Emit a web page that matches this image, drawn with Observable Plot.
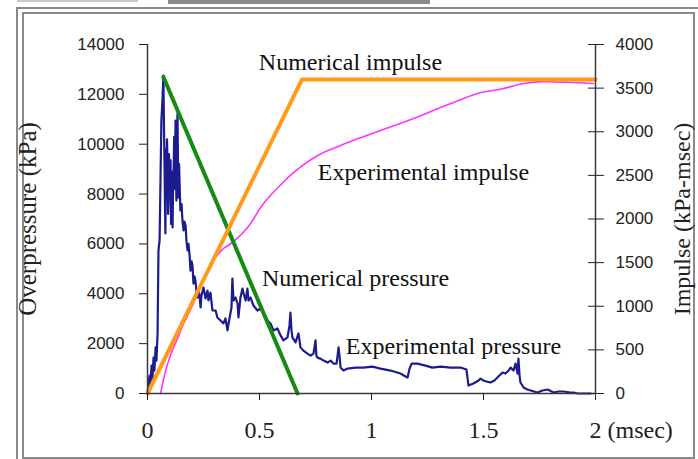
<!DOCTYPE html>
<html><head><meta charset="utf-8">
<script src="https://cdn.jsdelivr.net/npm/d3@7"></script>
<script src="https://cdn.jsdelivr.net/npm/@observablehq/plot@0.6"></script>
<style>
body{margin:0;background:#fff;}
#wrap{position:relative;width:698px;height:459px;overflow:hidden;background:#fff;}
.b{position:absolute;box-sizing:border-box;}
#chart{position:absolute;left:0;top:0;}
</style></head><body><div id="wrap">
<div class="b" style="left:17px;top:0;width:121px;height:2px;background:#c8c8c8"></div>
<div class="b" style="left:168px;top:0;width:262px;height:4px;background:#8a8a8a"></div>
<div class="b" style="left:16px;top:7px;width:700px;height:470px;border:2px solid #8a8a8a"></div>
<div class="b" style="left:22px;top:12px;width:673px;height:447px;border:2px solid #8a8a8a"></div>
<div id="chart"></div>
</div>
<script>
// time in msec
const expPressureT = [0,0.004,0.009,0.013,0.018,0.022,0.027,0.031,0.036,0.040,0.045,0.049,0.054,0.058,0.062,0.067,0.071,0.074,0.076,0.078,0.080,0.083,0.085,0.087,0.089,0.092,0.094,0.096,0.098,0.101,0.103,0.105,0.107,0.110,0.112,0.114,0.116,0.119,0.121,0.123,0.125,0.127,0.129,0.132,0.134,0.136,0.138,0.141,0.143,0.145,0.147,0.152,0.156,0.161,0.165,0.170,0.174,0.179,0.183,0.188,0.192,0.197,0.201,0.205,0.210,0.214,0.219,0.223,0.228,0.232,0.237,0.241,0.250,0.259,0.268,0.272,0.281,0.290,0.304,0.312,0.326,0.339,0.348,0.357,0.362,0.375,0.379,0.384,0.393,0.402,0.406,0.415,0.424,0.429,0.438,0.446,0.451,0.460,0.473,0.491,0.504,0.518,0.536,0.549,0.563,0.580,0.594,0.607,0.625,0.634,0.638,0.643,0.647,0.661,0.674,0.683,0.696,0.714,0.728,0.741,0.750,0.754,0.759,0.772,0.786,0.804,0.817,0.830,0.844,0.853,0.857,0.862,0.875,0.893,0.929,0.964,1.004,1.040,1.085,1.129,1.152,1.161,1.170,1.179,1.205,1.241,1.272,1.308,1.353,1.397,1.424,1.433,1.455,1.478,1.487,1.500,1.513,1.531,1.549,1.562,1.585,1.598,1.612,1.621,1.634,1.643,1.652,1.656,1.661,1.665,1.679,1.696,1.710,1.741,1.763,1.786,1.813,1.835,1.857,1.888,1.902,1.920,1.946,1.978];
// kPa
const expPressureP = [0,320,720,320,1120,600,1440,920,1850,1320,2400,5740,6140,8540,10950,11800,12750,10400,9230,7600,6420,9800,8540,10200,9470,7200,7740,9600,9150,8000,9350,6800,7140,8900,6660,8100,8540,10300,9750,8200,10950,9000,7740,10400,11230,9400,7860,9200,8540,7900,7340,7600,6940,6540,6900,6740,6100,5740,6000,5540,4930,5300,5130,4410,4700,4530,4100,3850,4200,3930,3450,3930,4250,3810,4130,3730,4050,3330,3330,3050,2930,2810,3010,2530,2810,3450,4610,3730,3850,3610,3050,3850,4210,4010,3730,4210,3730,3850,3530,3330,3410,3250,2930,2810,2530,2610,2330,2130,2250,2730,3250,2530,2250,2050,2410,1850,1720,1600,1520,1600,2130,1520,1440,1400,1320,1240,1320,1200,1200,1850,1520,1040,920,1000,1040,1040,1080,1000,920,800,680,640,1000,1200,1200,1120,1040,1080,1040,1040,960,320,400,520,600,520,480,440,520,640,840,800,920,1040,920,1200,800,1400,720,440,240,160,120,40,120,160,40,80,80,40,40,0,0,0];

const numPressureT = [0.071, 0.67];
const numPressureP = [12700, 0];

const numImpulseT = [0, 0.69, 2];
const numImpulseI = [0, 3600, 3600]; // kPa-msec

const expImpulseT = [0.058,0.080,0.103,0.134,0.161,0.192,0.230,0.281,0.330,0.384,0.446,0.518,0.594,0.638,0.696,0.762,0.862,0.950,1.040,1.188,1.308,1.400,1.473,1.589,1.679,1.768,1.902,1.990];
const expImpulseI = [0,250,440,630,800,960,1180,1470,1640,1740,1900,2177,2390,2500,2620,2730,2842,2930,3014,3152,3278,3370,3438,3495,3553,3575,3564,3553];

const xTicks = [0, 0.5, 1, 1.5, 2];
const pressureTicks = [0, 2000, 4000, 6000, 8000, 10000, 12000, 14000];
const impulseTicks = [0, 500, 1000, 1500, 2000, 2500, 3000, 3500, 4000];

const annLabels = ["Numerical impulse", "Experimental impulse", "Numerical pressure", "Experimental pressure"];
const annT = [0.906, 1.232, 0.929, 1.366];
const annP = [13277, 8864, 4613, 1885];

const K = 14000 / 4000; // impulse -> pressure axis mapping

const zip = (a, b) => a.map((v, i) => ({x: v, y: b[i]}));
const expP = zip(expPressureT, expPressureP);
const numP = zip(numPressureT, numPressureP);
const numI = numImpulseT.map((t, i) => ({x: t, y: numImpulseI[i] * K}));
const expI = expImpulseT.map((t, i) => ({x: t, y: expImpulseI[i] * K}));
const ann = annLabels.map((s, i) => ({x: annT[i], y: annP[i], s}));

const serif = "'Liberation Serif', 'Times New Roman', serif";
const sans = "'Liberation Sans', Arial, sans-serif";
const axisColor = "#3a3a3a";

const chart = Plot.plot({
  width: 698, height: 459,
  marginTop: 44, marginBottom: 66, marginLeft: 147, marginRight: 103,
  x: {domain: [0, 2]},
  y: {domain: [0, 14000]},
  style: {background: "none", overflow: "visible"},
  marks: [
    Plot.line(expP, {x: "x", y: "y", stroke: "#1c1c8e", strokeWidth: 2.2}),
    Plot.line(expI, {x: "x", y: "y", stroke: "#ff33ff", strokeWidth: 1.6, curve: "monotone-x"}),
    Plot.line(numP, {x: "x", y: "y", stroke: "#158a15", strokeWidth: 4}),
    Plot.line(numI, {x: "x", y: "y", stroke: "#ff9a1a", strokeWidth: 4}),
    Plot.ruleX([0], {stroke: axisColor, strokeWidth: 1.5}),
    Plot.ruleX([2], {stroke: axisColor, strokeWidth: 1.5}),
    Plot.ruleY([0], {stroke: axisColor, strokeWidth: 1.5}),
    Plot.axisY(pressureTicks, {anchor: "left", tickSize: 8, tickPadding: 15, fontSize: 17, fontFamily: sans, color: "#222", label: null, tickFormat: d => String(d)}),
    Plot.axisY(impulseTicks.map(v => v * K), {anchor: "right", tickSize: 8, tickPadding: 12, fontSize: 17, fontFamily: sans, color: "#222", label: null, tickFormat: d => String(Math.round(d / K))}),
    Plot.axisY(impulseTicks.map(v => v * K), {anchor: "right", tickSize: 8, dx: -8, color: "#222", label: null, tickFormat: () => ""}),
    Plot.axisX(xTicks, {anchor: "bottom", tickSize: 7, tickPadding: 20, fontSize: 24, fontFamily: serif, color: "#222", label: null, tickFormat: d => String(d)}),
    Plot.text(["(msec)"], {x: () => 2, text: d => d, frameAnchor: "bottom", dy: 27, dx: 12, lineAnchor: "top", textAnchor: "start", fontSize: 24, fontFamily: serif, fill: "#222"}),
    Plot.text(ann, {x: "x", y: "y", text: "s", fontSize: 24, fontFamily: serif, fill: "#111"}),
    Plot.text(["Overpressure (kPa)"], {text: d => d, frameAnchor: "left", dx: -120, rotate: -90, textAnchor: "middle", lineAnchor: "middle", fontSize: 25, fontFamily: serif, fill: "#222"}),
    Plot.text(["Impulse (kPa-msec)"], {text: d => d, frameAnchor: "right", dx: 87, rotate: -90, textAnchor: "middle", lineAnchor: "middle", fontSize: 24, fontFamily: serif, fill: "#222"})
  ]
});
document.getElementById("chart").appendChild(chart);
</script>
</body></html>
